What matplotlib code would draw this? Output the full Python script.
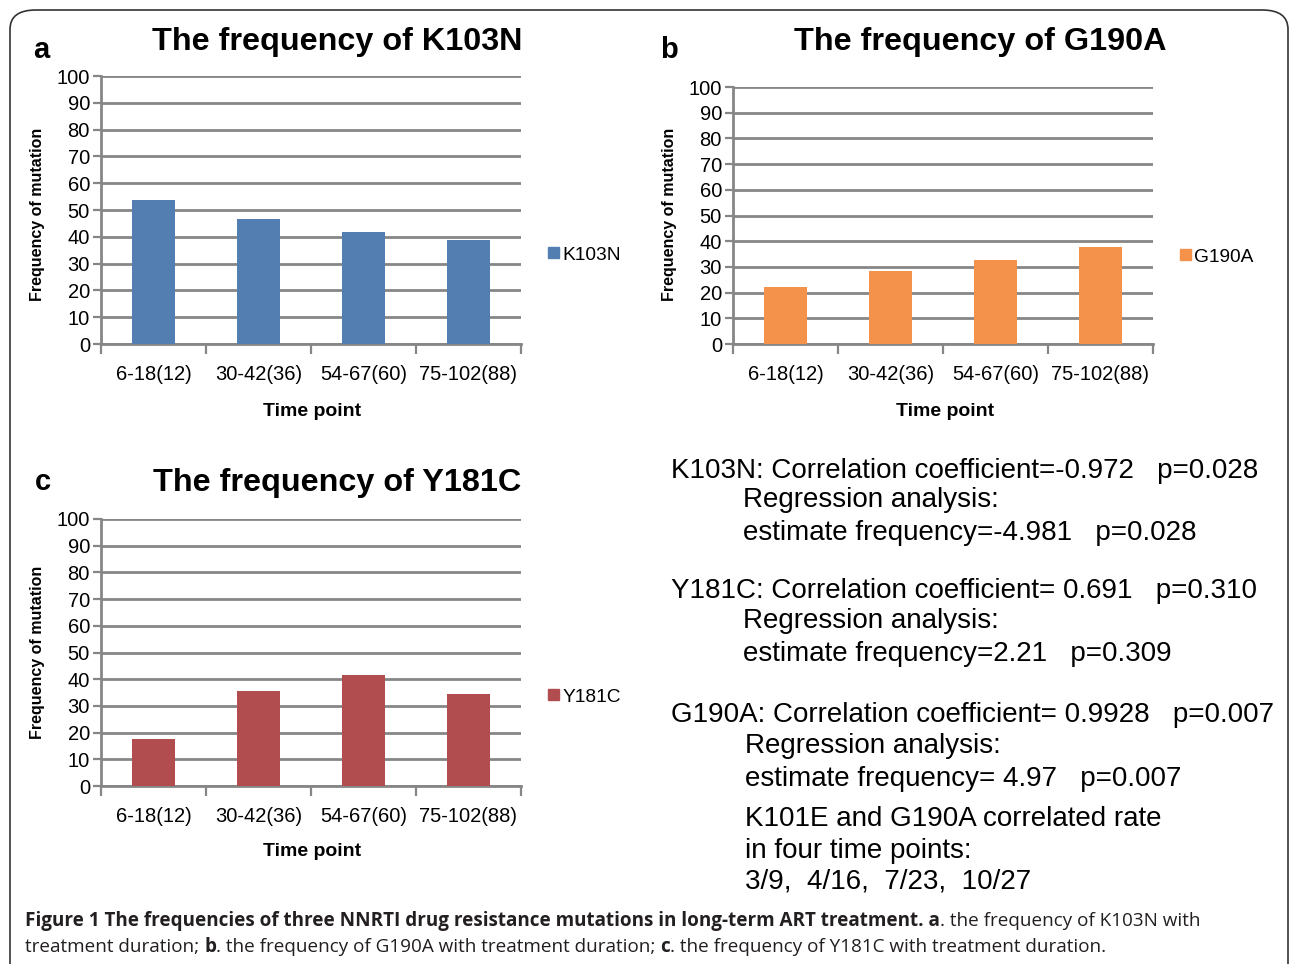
import matplotlib
matplotlib.use("Agg")
import matplotlib.pyplot as plt
from matplotlib.patches import FancyBboxPatch, Patch

W, H = 1290, 964

time_points = ["6-18(12)", "30-42(36)", "54-67(60)", "75-102(88)"]
k103n = [53.7, 46.6, 41.8, 38.8]
g190a = [22.2, 28.4, 32.7, 37.7]
y181c = [17.6, 35.6, 41.6, 34.5]
y_ticks = list(range(0, 101, 10))

stats_lines = [
    (671, 471, "K103N: Correlation coefficient=-0.972   p=0.028"),
    (743, 500, "Regression analysis:"),
    (743, 533, "estimate frequency=-4.981   p=0.028"),
    (671, 591, "Y181C: Correlation coefficient= 0.691   p=0.310"),
    (743, 621, "Regression analysis:"),
    (743, 654, "estimate frequency=2.21   p=0.309"),
    (671, 715, "G190A: Correlation coefficient= 0.9928   p=0.007"),
    (745, 746, "Regression analysis:"),
    (745, 779, "estimate frequency= 4.97   p=0.007"),
    (745, 819, "K101E and G190A correlated rate"),
    (745, 851, "in four time points:"),
    (745, 881, "3/9,  4/16,  7/23,  10/27"),
]

caption_1 = [("Figure 1 The frequencies of three NNRTI drug resistance mutations in long-term ART treatment. a", "bold"),
             (". the frequency of K103N with", "normal")]
caption_2 = [("treatment duration; ", "normal"), ("b", "bold"),
             (". the frequency of G190A with treatment duration; ", "normal"), ("c", "bold"),
             (". the frequency of Y181C with treatment duration.", "normal")]

plt.rcParams["font.family"] = ["Liberation Sans", "DejaVu Sans"]
GRID = "#868686"

fig = plt.figure(figsize=(W / 100, H / 100), dpi=100)


def fx(x):
    return x / W


def fy(y):
    return 1 - y / H


# rounded frame round the whole figure
frame = FancyBboxPatch((fx(10), fy(1000)), fx(1278), 990 / H,
                       boxstyle="round,pad=0,rounding_size=0.02",
                       transform=fig.transFigure, fill=False,
                       edgecolor="#333333", linewidth=1.2)
fig.patches.append(frame)


def bar_panel(box, values, color, name, letter, letter_xy, title_xy,
              ylabel_xy, timelabel_xy, legend_xy):
    x0, y0, x1, y1 = box
    ax = fig.add_axes([fx(x0), fy(y1), (x1 - x0) / W, (y1 - y0) / H])
    pos = range(len(values))
    ax.bar(pos, values, width=0.41, color=color, zorder=3)
    ax.set_xlim(-0.5, len(values) - 0.5)
    ax.set_ylim(0, 100)
    ax.set_yticks(y_ticks)
    ax.set_yticklabels([str(t) for t in y_ticks])
    ax.yaxis.grid(True, color=GRID, linewidth=2.0, zorder=0)
    ax.set_axisbelow(True)
    ax.set_xticks([p - 0.5 for p in range(len(values) + 1)])
    ax.set_xticklabels([])
    ax.set_xticks(list(pos), minor=True)
    ax.set_xticklabels(time_points, minor=True)
    ax.tick_params(axis="x", which="major", direction="out", length=7,
                   width=1.6, color=GRID)
    ax.tick_params(axis="x", which="minor", length=0, pad=15, labelsize=14.5)
    ax.tick_params(axis="y", direction="out", length=6, width=1.6,
                   color=GRID, labelsize=14.5, pad=2)
    for s in ("top", "right"):
        ax.spines[s].set_visible(False)
    for s in ("left", "bottom"):
        ax.spines[s].set_color(GRID)
        ax.spines[s].set_linewidth(2.0)
    fig.text(fx(letter_xy[0]), fy(letter_xy[1]), letter, fontsize=21,
             fontweight="bold", ha="center", va="center")
    fig.text(fx(title_xy[0]), fy(title_xy[1]), "The frequency of " + name,
             fontsize=23.3, fontweight="bold", ha="center", va="center")
    fig.text(fx(ylabel_xy[0]), fy(ylabel_xy[1]), "Frequency of mutation",
             fontsize=11.5, fontweight="bold", rotation=90,
             ha="center", va="center")
    fig.text(fx(timelabel_xy[0]), fy(timelabel_xy[1]), "Time point",
             fontsize=14, fontweight="bold", ha="center", va="center")
    ax.legend(handles=[Patch(color=color, label=name)], frameon=False,
              loc="center left", bbox_to_anchor=(fx(legend_xy[0]), fy(legend_xy[1])),
              bbox_transform=fig.transFigure, handlelength=0.55,
              handleheight=0.55, handletextpad=0.2, borderpad=0,
              borderaxespad=0, fontsize=13.8)
    return ax


bar_panel((101, 76, 521, 344), k103n, "#537eb2", "K103N", "a", (41, 50),
          (337, 42), (38, 214), (312, 411), (548, 255))
bar_panel((733, 87, 1153, 344), g190a, "#f4924c", "G190A", "b", (669, 50),
          (980, 42), (669, 214), (945, 411), (1180, 257))
bar_panel((101, 519, 521, 786), y181c, "#b24d4f", "Y181C", "c", (43, 482),
          (337, 483), (38, 652), (312, 851), (548, 697))

for x, y, s in stats_lines:
    fig.text(fx(x), fy(y), s, fontsize=20, ha="left", va="center")

# caption: pieces laid next to each other with measured widths
fig.canvas.draw()
renderer = fig.canvas.get_renderer()


def caption_row(pieces, x, y):
    for s, weight in pieces:
        t = fig.text(fx(x), fy(y), s, fontsize=13.6, fontweight=weight,
                     family=["Open Sans", "DejaVu Sans"], ha="left",
                     va="center", color="#231f20")
        bb = t.get_window_extent(renderer)
        x += bb.width


caption_row(caption_1, 25, 921)
caption_row(caption_2, 25, 947)

fig.savefig("out.png", dpi=100)
